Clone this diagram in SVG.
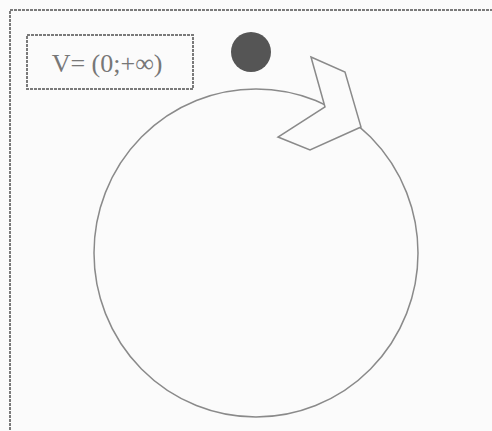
<svg xmlns="http://www.w3.org/2000/svg" width="492" height="431" viewBox="0 0 492 431">
<style>
.ln{fill:none;stroke:#8a8a8a;stroke-width:1.5}
.frame{fill:none;stroke:#7a7a7a;stroke-width:2;stroke-dasharray:3 1}
.lbl{font-family:"Liberation Serif",serif;font-size:26px;fill:#777}
</style>
<rect width="492" height="431" fill="#fbfbfb"/>
<rect class="frame" x="10" y="10" width="490" height="430"/>
<g id="label">
<rect class="frame" x="27" y="35" width="166" height="54" fill="#fbfbfb" stroke-width="1.5"/>
<text class="lbl" x="107" y="72" text-anchor="middle">V= (0;+∞)</text>
</g>
<g id="dot"><circle cx="251" cy="52" r="20" fill="#555"/></g>
<g id="connectors">
<ellipse class="ln" cx="256" cy="253" rx="162" ry="164"/>
</g>
<g id="arrow">
<polygon class="ln" style="fill:#fbfbfb" points="311,57 345,72 361,127 310,150 278,137 325,107"/>
</g>
</svg>
